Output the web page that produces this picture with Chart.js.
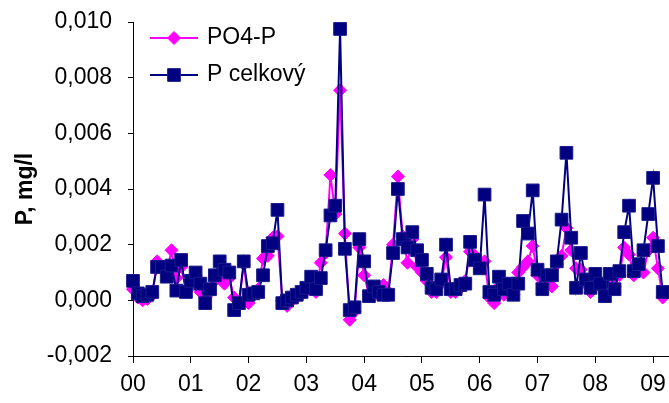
<!DOCTYPE html>
<html>
<head>
<meta charset="utf-8">
<script src="https://cdn.jsdelivr.net/npm/chart.js@4"></script>
<style>
  body { margin: 0; background: #fff; }
</style>
</head>
<body>
<canvas id="chart" width="669" height="403"></canvas>
<script>
// monthly samples, Jan 2000 .. Mar 2009 (index = month number)
var ptot = [
  0.0007, 0.00025, 0.00015, 0.0002, 0.0003, 0.0012, 0.0012, 0.00085, 0.00125, 0.00035, 0.00145, 0.0003,
  0.0007, 0.0010, 0.0006, -0.0001, 0.0004, 0.0009, 0.0014, 0.0011, 0.0010, -0.00035, -0.0001, 0.0014,
  0.0002, 0.00025, 0.0003, 0.0009, 0.00195, 0.00205, 0.00325, -0.0001, 0.0000, 0.0001, 0.0002, 0.0003,
  0.00045, 0.00085, 0.0004, 0.0008, 0.0018, 0.00305, 0.0034, 0.00975, 0.00185, -0.00035, -0.00025, 0.0022,
  0.0014, 0.00015, 0.0005, 0.0003, 0.0002, 0.0002, 0.0017, 0.0040, 0.0022, 0.0019, 0.00245, 0.0018,
  0.00145, 0.00095, 0.00045, 0.0004, 0.00075, 0.0020, 0.0004, 0.0004, 0.00055, 0.0006, 0.0021, 0.00145,
  0.00115, 0.0038, 0.0003, 0.0002, 0.00085, 0.0004, 0.0006, 0.0002, 0.0006, 0.00285, 0.0024, 0.00395,
  0.0011, 0.0004, 0.0009, 0.0009, 0.0014, 0.0029, 0.0053, 0.00225, 0.00045, 0.0017, 0.00075, 0.00045,
  0.00095, 0.0006, 0.00015, 0.00095, 0.0004, 0.00105, 0.00245, 0.0034, 0.00105, 0.0013, 0.0018, 0.0031,
  0.0044, 0.00195, 0.0003
];

var po4 = [
  0.0004, 0.0001, 0.0000, 0.00005, 0.0002, 0.0014, 0.0012, 0.0010, 0.0018, 0.0008, 0.0012, 0.0004,
  0.0005, 0.0009, 0.0003, 0.0001, 0.0003, 0.0007, 0.0010, 0.0006, 0.0008, 0.0001, -0.0001, 0.0013,
  -0.0001, 0.0002, 0.0004, 0.0015, 0.0016, 0.00225, 0.0023, 0.0000, -0.0002, 0.0000, 0.0001, 0.0002,
  0.00035, 0.0005, 0.0003, 0.00135, 0.0017, 0.0045, 0.0031, 0.00755, 0.0024, -0.0007, -0.0004, 0.0019,
  0.0009, 0.0002, 0.0003, 0.0002, 0.00055, 0.0003, 0.0020, 0.00445, 0.0023, 0.00135, 0.0022, 0.0012,
  0.0010, 0.0007, 0.0003, 0.0003, 0.0006, 0.00155, 0.0003, 0.0003, 0.00045, 0.0007, 0.00175, 0.0016,
  0.0013, 0.0014, 0.0001, -0.0001, 0.0005, 0.0002, 0.0003, 0.0002, 0.0010, 0.0012, 0.0014, 0.00195,
  0.0009, 0.0006, 0.0006, 0.0005, 0.0013, 0.0016, 0.0026, 0.0018, 0.00115, 0.0011, 0.0006, 0.0003,
  0.0006, 0.0005, 0.0002, 0.0008, 0.0005, 0.0009, 0.0019, 0.00165, 0.0009, 0.0012, 0.0010, 0.0018,
  0.00225, 0.00115, 0.0001
];

var yearTicks = [0, 12, 24, 36, 48, 60, 72, 84, 96, 108];
var yearLabels = ['00', '01', '02', '03', '04', '05', '06', '07', '08', '09'];

var seriesNames = ['PO4-P', 'P celkový'];

function toPoints(arr) {
    return arr.map(function(v, i) { return {x: i, y: v}; });
}

var font = {family: 'Arial, "Liberation Sans", sans-serif', size: 23};

//--------------------------------------------------------------------
// * Excel-like legend inside the plot: line + marker + text
//--------------------------------------------------------------------
var insideLegend = {
    id: 'insideLegend',
    afterDraw: function(chart) {
        var ctx = chart.ctx;
        var rows = [
            {ds: chart.data.datasets[1], y: 38},
            {ds: chart.data.datasets[0], y: 75}
        ];
        ctx.save();
        rows.forEach(function(r) {
            var ds = r.ds;
            ctx.strokeStyle = ds.borderColor;
            ctx.lineWidth = 2;
            ctx.beginPath();
            ctx.moveTo(150, r.y);
            ctx.lineTo(198, r.y);
            ctx.stroke();
            ctx.fillStyle = ds.pointBackgroundColor;
            ctx.strokeStyle = ds.pointBorderColor;
            ctx.lineWidth = 1;
            Chart.helpers.drawPoint(ctx, {pointStyle: ds.pointStyle, radius: ds.pointRadius, borderWidth: 1, rotation: 0}, 174, r.y);
            ctx.fillStyle = '#000';
            ctx.font = '23px Arial, "Liberation Sans", sans-serif';
            ctx.textBaseline = 'middle';
            ctx.textAlign = 'left';
            ctx.fillText(ds.label, 207, r.y);
        });
        ctx.restore();
    }
};

var ctx = document.getElementById('chart').getContext('2d');
var chart = new Chart(ctx, {
    type: 'line',
    data: {
        datasets: [{
            label: seriesNames[1],
            data: toPoints(ptot),
            borderColor: '#000080',
            borderWidth: 2,
            pointStyle: 'rect',
            pointRadius: 9,
            pointBackgroundColor: '#000080',
            pointBorderColor: '#1a1a8c',
            pointBorderWidth: 1,
            tension: 0,
            clip: false,
            order: 1
        }, {
            label: seriesNames[0],
            data: toPoints(po4),
            borderColor: '#ff00ff',
            borderWidth: 2,
            pointStyle: 'rectRot',
            pointRadius: 6.5,
            pointBackgroundColor: '#ff00ff',
            pointBorderColor: '#ff00ff',
            pointBorderWidth: 1,
            tension: 0,
            clip: false,
            order: 2
        }]
    },
    options: {
        responsive: false,
        animation: false,
        layout: {autoPadding: false, padding: {left: 0, right: 0, top: 22, bottom: 0}},
        plugins: {
            legend: {display: false},
            tooltip: {enabled: false}
        },
        scales: {
            x: {
                type: 'linear',
                min: 0,
                max: 111.3,
                afterBuildTicks: function(s) {
                    s.ticks = yearTicks.map(function(v) { return {value: v}; });
                },
                afterFit: function(s) {
                    s.height = 47;
                    s.paddingLeft = 0;
                    s.paddingRight = 0;
                },
                ticks: {
                    font: font,
                    color: '#000',
                    padding: 8,
                    maxRotation: 0,
                    autoSkip: false,
                    callback: function(v) { return yearLabels[yearTicks.indexOf(v)]; }
                },
                grid: {drawOnChartArea: false, drawTicks: true, tickLength: 7, color: '#000'},
                border: {color: '#000', width: 1}
            },
            y: {
                min: -0.002,
                max: 0.010,
                afterFit: function(s) {
                    s.width = 133;
                    s.paddingTop = 0;
                    s.paddingBottom = 0;
                },
                ticks: {
                    stepSize: 0.002,
                    font: font,
                    color: '#000',
                    padding: 16,
                    callback: function(v) { return v.toFixed(3).replace('.', ','); }
                },
                grid: {drawOnChartArea: false, drawTicks: true, tickLength: 5, color: '#000'},
                border: {color: '#000', width: 1},
                title: {
                    display: true,
                    text: 'P, mg/l',
                    color: '#000',
                    font: {family: font.family, size: 23, weight: 'bold'},
                    padding: {top: 12, bottom: 0}
                }
            }
        }
    },
    plugins: [insideLegend]
});
</script>
</body>
</html>
